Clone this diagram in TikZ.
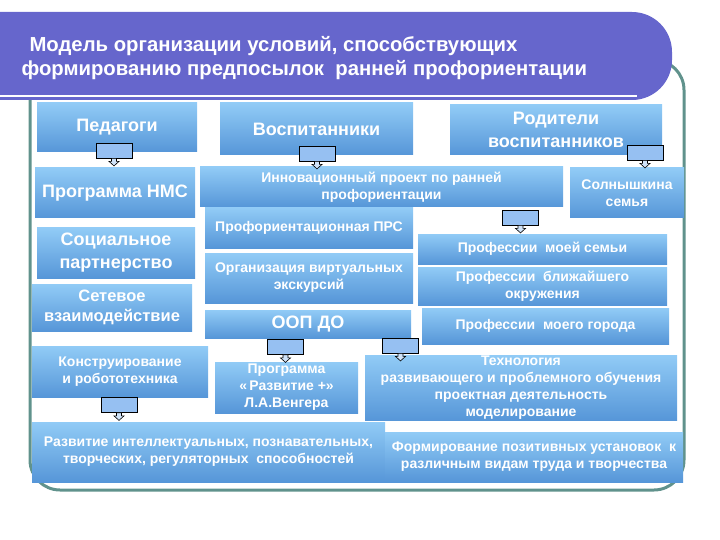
\documentclass[tikz,border=0pt]{standalone}
\usepackage{fontspec}
\setmainfont{Liberation Sans}
\usepackage{tikz}
\usetikzlibrary{positioning}
\usetikzlibrary{calc}
\usepackage{xcolor}

\definecolor{bannerblue}{RGB}{102,102,204}
\definecolor{rimgreen}{RGB}{96,146,140}
\definecolor{boxtop}{RGB}{145,203,246}
\definecolor{boxbot}{RGB}{86,150,216}
\definecolor{tagblue}{RGB}{150,192,242}

\begin{document}
\begin{tikzpicture}[
  x=1pt, y=-1pt,
  font=\bfseries,
  box/.style={top color=boxtop, bottom color=boxbot, text=white,
    align=center, inner sep=1pt},
  big/.style={font=\fontsize{18}{23}\selectfont\bfseries},
  mid/.style={font=\fontsize{16.5}{20}\selectfont\bfseries},
  sml/.style={font=\fontsize{14}{17}\selectfont\bfseries},
  cbox/.style={draw=black, line width=0.8pt, fill=tagblue,
    minimum width=36pt, minimum height=15pt, inner sep=0pt},
  notch/.style={draw=black, line width=0.6pt, fill=white!55!tagblue},
  rim/.style={draw=rimgreen, line width=3pt, rounded corners=30pt}
]
\useasboundingbox (0,0) rectangle (720,540);

% --- frame + title banner ---
\draw[rim] (30,60) rectangle (684,490);
\fill[bannerblue, rounded corners=40pt] (-60,12) rectangle (672,100);
\draw[white, line width=2pt] (0,96) -- (637,96);
\node[anchor=west, text=white, align=left,
  font=\fontsize{20.3}{24}\selectfont\bfseries] (title) at (18,58) {%
  \hspace{8pt}Модель организации условий, способствующих\\
  формированию предпосылок\ \ ранней профориентации};

% --- top row ---
\node[box, big, minimum width=160pt, minimum height=49pt] (ped) at (117,127.5) {Педагоги};
\node[box, big, minimum width=193pt, minimum height=52pt] (vos) at (316.5,129) {Воспитанники};
\node[box, big, minimum width=212pt, minimum height=50pt] (rod) at (556,130) {Родители\\воспитанников};

% --- left column ---
\node[box, big, minimum width=160pt, minimum height=50pt] (nmc) at (115,193) {Программа НМС};
\node[box, big, minimum width=158pt, minimum height=50pt] (soc) at (116,253) {Социальное\\партнерство};
\node[box, mid, minimum width=160pt, minimum height=47pt] (net) at (112,307.5) {Сетевое\\взаимодействие};
\node[box, sml, minimum width=176pt, minimum height=51pt] (kon) at (120,371.5) {Конструирование\\и робототехника};

% --- middle column ---
\node[box, sml, minimum width=363pt, minimum height=40pt] (inn) at (381.5,187) {Инновационный проект по ранней\\профориентации};
\node[box, sml, minimum width=208pt, minimum height=40pt] (prs) at (309,228) {Профориентационная ПРС};
\node[box, sml, minimum width=208pt, minimum height=50pt] (exc) at (309,278) {Организация виртуальных\\экскурсий};
\node[box, big, minimum width=206pt, minimum height=28pt] (oop) at (308,324) {ООП ДО};
\node[box, sml, minimum width=143pt, minimum height=51pt] (veng) at (286.5,387.5) {Программа\\«\,Развитие +»\\Л.А.Венгера};

% --- right column ---
\node[box, sml, minimum width=114pt, minimum height=50pt] (sun) at (627,193) {Солнышкина\\семья};
\node[box, sml, minimum width=249pt, minimum height=30pt] (fam) at (542.5,249) {Профессии\ \ моей семьи};
\node[box, sml, minimum width=249pt, minimum height=38pt] (env) at (542.5,286) {Профессии\ \ ближайшего\\окружения};
\node[box, sml, minimum width=247pt, minimum height=36pt] (city) at (545.5,326) {Профессии\ \ моего города};
\node[box, sml, minimum width=312pt, minimum height=62pt] (tech) at (521,388) {Технология\\развивающего и проблемного обучения\\проектная деятельность\\моделирование};

% --- bottom row ---
\node[box, sml, minimum width=353pt, minimum height=60pt] (dev) at (208.5,452) {Развитие интеллектуальных, познавательных,\\творческих, регуляторных\ \ способностей};
\node[box, sml, minimum width=298pt, minimum height=50pt] (form) at (534,457) {Формирование позитивных установок\ \ к\\различным видам труда и творчества};

% --- callouts ---
\node[cbox] (cPed) at (114,150.5) {};
\node[cbox] (cVos) at (317,153.5) {};
\node[cbox] (cRod) at (645,152.5) {};
\node[cbox] (cInn) at (520.5,217.5) {};
\node[cbox] (cOop) at (285.5,347) {};
\node[cbox] (cCity) at (400.5,345.5) {};
\node[cbox] (cKon) at (119,405) {};
\foreach \c in {cPed,cVos,cRod,cInn,cOop,cCity,cKon}
  \filldraw[notch] (\c.south) ++(-2.5,0) -- ++(0,3) -- ++(-2.5,0)
    -- ++(5,4.5) -- ++(5,-4.5) -- ++(-2.5,0) -- ++(0,-3) -- cycle;

\end{tikzpicture}
\end{document}
